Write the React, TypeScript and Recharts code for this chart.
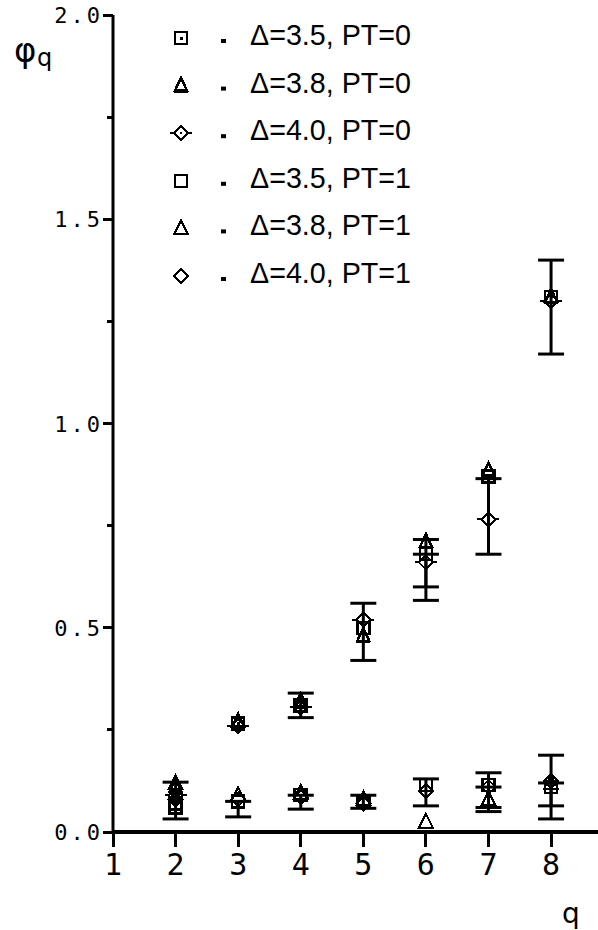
import React from 'react';
import { ScatterChart, Scatter, XAxis, YAxis, ErrorBar } from 'recharts';

const qValues = [2, 3, 4, 5, 6, 7, 8];

// PT=0 series (the growing ones)
const d35pt0 = [0.07, 0.265, 0.31, 0.5, 0.68, 0.87, 1.31];
const d38pt0 = [0.11, 0.27, 0.32, 0.48, 0.71, 0.885, 1.31];
const d40pt0 = [0.09, 0.26, 0.305, 0.52, 0.66, 0.765, 1.3];
// PT=1 series (flat near zero)
const d35pt1 = [0.06, 0.075, 0.09, 0.075, 0.115, 0.115, 0.11];
const d38pt1 = [0.12, 0.09, 0.095, 0.08, 0.025, 0.08, 0.12];
const d40pt1 = [0.08, 0.08, 0.085, 0.07, 0.1, 0.11, 0.125];

// error bars: q, lower bound, upper bound
const errQ = [4, 5, 6, 6, 7, 8, 2, 3, 4, 5, 6, 7, 7, 8, 8];
const errLow = [0.28, 0.42, 0.567, 0.6, 0.68, 1.17, 0.032, 0.037, 0.056, 0.058, 0.064, 0.05, 0.06, 0.032, 0.064];
const errHigh = [0.34, 0.56, 0.716, 0.68, 0.865, 1.4, 0.122, 0.075, 0.09, 0.09, 0.13, 0.145, 0.11, 0.188, 0.12];

const xTicks = [1, 2, 3, 4, 5, 6, 7, 8];
const yTicks = [0, 0.25, 0.5, 0.75, 1, 1.25, 1.5, 1.75, 2];

const legendLabels = ['Δ=3.5, PT=0', 'Δ=3.8, PT=0', 'Δ=4.0, PT=0', 'Δ=3.5, PT=1', 'Δ=3.8, PT=1', 'Δ=4.0, PT=1'];

const toPoints = (vals: number[]) => qValues.map((q, i) => ({ q, v: vals[i] }));
const errData = errQ.map((q, i) => {
  const mid = (errLow[i] + errHigh[i]) / 2;
  return { q, v: mid, err: [mid - errLow[i], errHigh[i] - mid] };
});

const K = '#000';
const crisp = { shapeRendering: 'crispEdges' as const };

const SquareDot = ({ cx, cy }: any) => (
  <g style={crisp}>
    <rect x={cx - 6} y={cy - 6} width={12} height={12} fill="none" stroke={K} strokeWidth={2.5} />
    <rect x={cx - 1.5} y={cy - 1.5} width={3} height={3} fill={K} />
  </g>
);
const SquareOpen = ({ cx, cy }: any) => (
  <g style={crisp}>
    <rect x={cx - 6} y={cy - 6} width={12} height={12} fill="none" stroke={K} strokeWidth={2.5} />
  </g>
);
const TriBold = ({ cx, cy }: any) => (
  <g style={crisp}>
    <path d={`M${cx},${cy - 8} L${cx + 6},${cy + 5} L${cx - 6},${cy + 5} Z`} fill="none" stroke={K} strokeWidth={2.5} />
    <line x1={cx - 7} y1={cy + 6} x2={cx + 7} y2={cy + 6} stroke={K} strokeWidth={3} />
  </g>
);
const TriOpen = ({ cx, cy }: any) => (
  <g style={crisp}>
    <path d={`M${cx},${cy - 8} L${cx + 7},${cy + 6} L${cx - 7},${cy + 6} Z`} fill="none" stroke={K} strokeWidth={2} />
  </g>
);
const DiamondTick = ({ cx, cy }: any) => (
  <g style={crisp}>
    <path d={`M${cx},${cy - 7} L${cx + 7},${cy} L${cx},${cy + 7} L${cx - 7},${cy} Z`} fill="none" stroke={K} strokeWidth={2} />
    <line x1={cx - 11} y1={cy} x2={cx - 7} y2={cy} stroke={K} strokeWidth={2} />
    <line x1={cx + 7} y1={cy} x2={cx + 11} y2={cy} stroke={K} strokeWidth={2} />
    <rect x={cx - 1} y={cy - 1} width={2} height={2} fill={K} />
  </g>
);
const DiamondOpen = ({ cx, cy }: any) => (
  <g style={crisp}>
    <path d={`M${cx},${cy - 7} L${cx + 7},${cy} L${cx},${cy + 7} L${cx - 7},${cy} Z`} fill="none" stroke={K} strokeWidth={2} />
  </g>
);
const Nothing = () => <g />;

const markers = [SquareDot, TriBold, DiamondTick, SquareOpen, TriOpen, DiamondOpen];
const series = [d35pt0, d38pt0, d40pt0, d35pt1, d38pt1, d40pt1];

const YTick = (props: any) => {
  const { x, y, payload } = props;
  const v = payload.value as number;
  const major = Math.abs(v * 2 - Math.round(v * 2)) < 1e-6;
  return (
    <g style={crisp}>
      <line x1={x - (major ? 10 : 6)} y1={y} x2={x} y2={y} stroke={K} strokeWidth={3} />
      {major && (
        <text x={x - 10} y={y + 8} textAnchor="end" fontFamily="DejaVu Sans Mono" fontSize={22} letterSpacing={3} fill={K}>
          {v.toFixed(1)}
        </text>
      )}
    </g>
  );
};

const XTick = (props: any) => {
  const { x, y, payload } = props;
  return (
    <g style={crisp}>
      <line x1={x} y1={y} x2={x} y2={y + 15} stroke={K} strokeWidth={3} />
      <text x={x} y={y + 43} textAnchor="middle" fontFamily="DejaVu Sans Mono" fontSize={30} fill={K}>
        {payload.value}
      </text>
    </g>
  );
};

export default function App() {
  return (
    <div style={{ position: 'absolute', left: 0, top: 0, width: 598, height: 930, background: '#fff' }}>
      <ScatterChart width={598} height={930} margin={{ top: 15, right: 0, bottom: 0, left: 0 }}>
        <XAxis
          dataKey="q"
          type="number"
          domain={[1, 8.75]}
          ticks={xTicks}
          allowDataOverflow
          height={98}
          tickSize={0}
          tickMargin={0}
          tickLine={false}
          axisLine={{ stroke: K, strokeWidth: 4 }}
          tick={<XTick />}
        />
        <YAxis
          dataKey="v"
          type="number"
          domain={[0, 2]}
          ticks={yTicks}
          allowDataOverflow
          width={113}
          tickSize={0}
          tickMargin={0}
          tickLine={false}
          axisLine={{ stroke: K, strokeWidth: 3 }}
          tick={<YTick />}
        />
        <Scatter data={errData} shape={Nothing} isAnimationActive={false}>
          <ErrorBar dataKey="err" direction="y" width={13} stroke={K} strokeWidth={3} />
        </Scatter>
        {series.map((vals, i) => (
          <Scatter key={i} data={toPoints(vals)} shape={markers[i]} isAnimationActive={false} />
        ))}
      </ScatterChart>
      <svg width={598} height={930} style={{ position: 'absolute', left: 0, top: 0, pointerEvents: 'none' }}>
        <text x={14} y={62} fontFamily="DejaVu Sans" fontSize={34} fill={K}>φ</text>
        <text x={37} y={66} fontFamily="DejaVu Sans" fontSize={24} fill={K}>q</text>
        <text x={562} y={923} fontFamily="DejaVu Sans" fontSize={28} fill={K}>q</text>
        {legendLabels.map((label, i) => {
          const base = 45 + i * 47.6;
          const M = markers[i];
          return (
            <g key={label}>
              <M cx={181} cy={base - 7} />
              <rect x={221} y={base - 6} width={5} height={4} fill={K} />
              <text x={250} y={base} fontFamily="Liberation Sans" fontSize={30} textLength={161} lengthAdjust="spacingAndGlyphs" fill={K}>
                {label}
              </text>
            </g>
          );
        })}
      </svg>
    </div>
  );
}
